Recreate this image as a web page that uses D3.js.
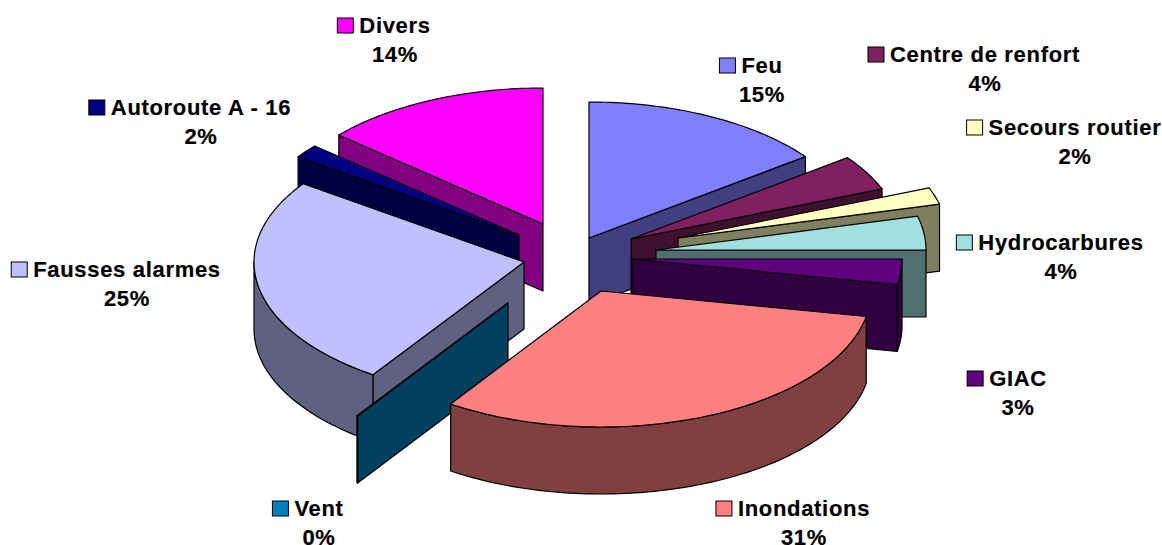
<!DOCTYPE html>
<html>
<head>
<meta charset="utf-8">
<script src="https://cdnjs.cloudflare.com/ajax/libs/d3/7.8.5/d3.min.js"></script>
<style>
html,body{margin:0;padding:0;background:#fff;overflow:hidden}
svg{display:block}
text{font-family:"Liberation Sans",Arial,sans-serif;font-weight:700;font-size:22px;letter-spacing:.68px;fill:#000;stroke:#000;stroke-width:.2px;text-anchor:middle}
</style>
</head>
<body>
<svg id="chart" width="1162" height="545"></svg>
<script>
// Data, clockwise from 12 o'clock
const categories = ["Feu","Centre de renfort","Secours routier","Hydrocarbures","GIAC","Inondations","Vent","Fausses alarmes","Autoroute A - 16","Divers"];
const shares = [14.8,4.2,2,4,3,31.4,0.05,25.3,1.6,13.65];
const colours = ["#8080FF","#802060","#FFFFC0","#A0E0E0","#600080","#FF8080","#0080C0","#C0C0FF","#000080","#FF00FF"];

// Layout (kept apart from the data)
const centre = {x:566, y:262};
const rx = 270, ry = 136, depth = 67;
const explodeX = [23,65,112,90,66,35,-58,-42,-47,-23];
const explodeY = [-24,-23,-24,-12,-3,29,41,0,-27,-38];
const paintOrder = [0,1,2,3,4,9,8,7,6,5];
const labelX = [762,985,1075,1061,1018,804,319,127,201,395];
const labelY = [73,62,135,250,386,516,516,277,115,33];
const lineGap = 29, keyWidth = 16, keyHeight = 15, keyGap = 6;

const svg = d3.select("#chart");
const slices = d3.pie().value(d => d).sort(null).startAngle(0).endAngle(2*Math.PI)(shares);
const line = d3.line();
const half = c => { const r = d3.rgb(c); return d3.rgb(r.r/2, r.g/2, r.b/2).formatHex(); };

function arcPoints(cx, cy, a0, a1) {
  const n = Math.max(2, Math.ceil((a1 - a0) / 0.02));
  return d3.range(n + 1).map(i => {
    const a = a0 + (a1 - a0) * i / n;
    return [cx + rx * Math.sin(a), cy - ry * Math.cos(a)];
  });
}
function radialWall(cx, cy, a) {
  const [p] = arcPoints(cx, cy, a, a);
  return [[cx, cy], p, [p[0], p[1] + depth], [cx, cy + depth]];
}
const face = (g, pts, fill) => g.append("path")
  .attr("d", line(pts) + "Z")
  .attr("fill", fill)
  .attr("stroke", "#000")
  .attr("stroke-width", 1.2)
  .attr("stroke-linejoin", "round");

paintOrder.forEach(i => {
  const s = slices[i], cx = centre.x + explodeX[i], cy = centre.y + explodeY[i];
  const g = svg.append("g").attr("class", "slice");
  const side = half(colours[i]);
  if (s.endAngle < Math.PI) face(g, radialWall(cx, cy, s.endAngle), side);
  if (s.startAngle > Math.PI) face(g, radialWall(cx, cy, s.startAngle), side);
  const lo = Math.max(s.startAngle, Math.PI/2), hi = Math.min(s.endAngle, 3*Math.PI/2);
  if (hi > lo) {
    const top = arcPoints(cx, cy, lo, hi);
    const bottom = top.map(p => [p[0], p[1] + depth]).reverse();
    face(g, top.concat(bottom), side);
  }
  face(g, [[cx, cy]].concat(arcPoints(cx, cy, s.startAngle, s.endAngle)), colours[i]);
});

categories.forEach((name, i) => {
  const g = svg.append("g").attr("class", "label");
  const t = g.append("text").attr("x", labelX[i]).attr("y", labelY[i]).text(name);
  g.append("text").attr("x", labelX[i]).attr("y", labelY[i] + lineGap).text(d3.format(".0f")(shares[i]) + "%");
  const w = t.node().getComputedTextLength();
  g.append("rect")
    .attr("x", labelX[i] - w/2 - keyGap - keyWidth)
    .attr("y", labelY[i] - keyHeight)
    .attr("width", keyWidth).attr("height", keyHeight)
    .attr("fill", colours[i]).attr("stroke", "#000").attr("stroke-width", 1);
});
</script>
</body>
</html>
